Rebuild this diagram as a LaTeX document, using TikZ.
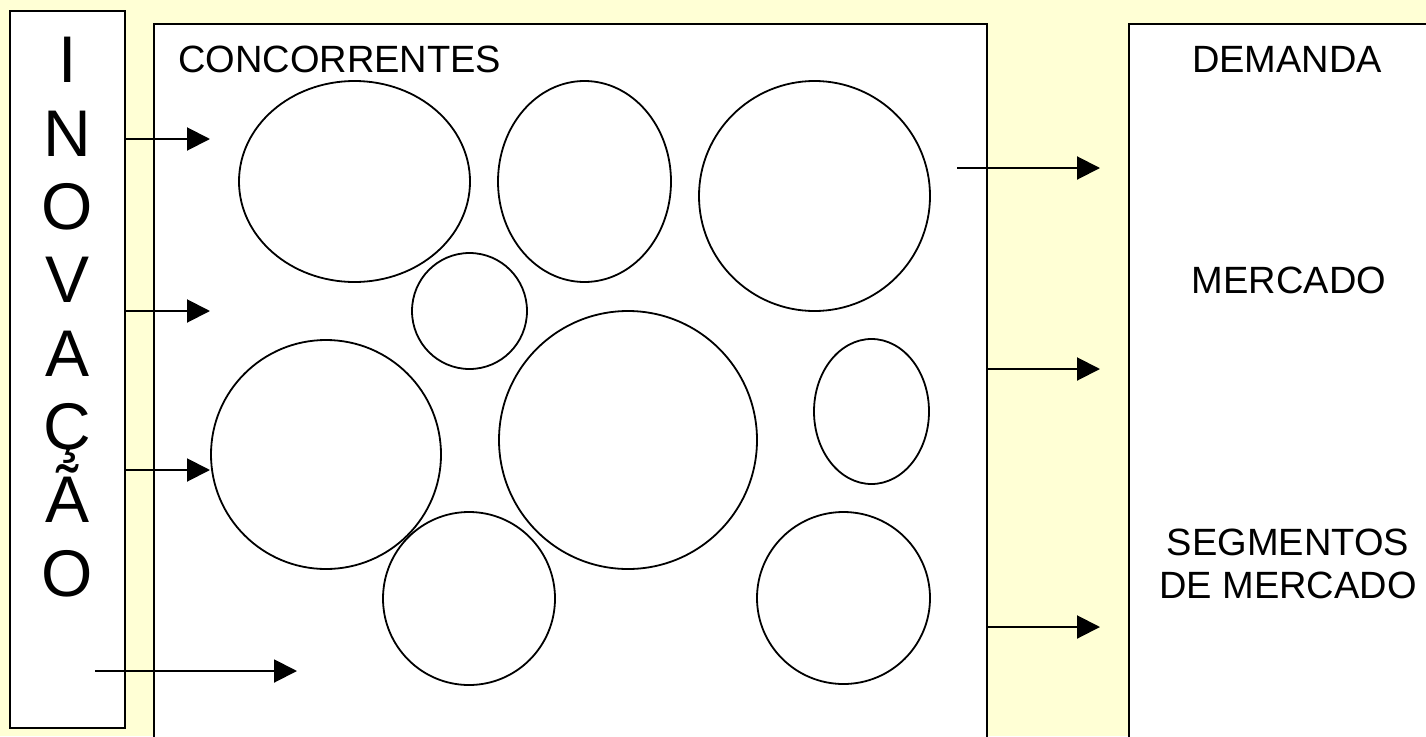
\documentclass[tikz,border=0pt]{standalone}
\usepackage{fontspec}
\setmainfont{Liberation Sans}
\usetikzlibrary{arrows.meta,shapes.geometric}
\definecolor{bgyellow}{RGB}{255,255,213}
\begin{document}
\begin{tikzpicture}[x=1pt,y=-1pt,
  box/.style={draw=black, line width=2pt, fill=white, inner sep=0pt, outer sep=0pt, anchor=north west},
  bubble/.style={draw=black, line width=1.8pt, ellipse, inner sep=0pt, outer sep=0pt},
  arr/.style={draw=black, line width=2pt, -{Triangle[length=23pt,width=23pt]}},
  big/.style={font=\fontsize{66}{73.3}\selectfont, inner sep=0pt, align=center},
  lab/.style={font=\fontsize{38}{43}\selectfont, inner sep=0pt, align=center}]
\fill[bgyellow] (0,0) rectangle (1426,736);
\useasboundingbox (0,0) rectangle (1426,736);
\clip (0,0) rectangle (1426,736);
% boxes
\node[box, minimum width=115.5pt, minimum height=717.3pt] (inov) at (9.5,10.7) {};
\node[box, minimum width=833.5pt, minimum height=740pt] (conc) at (153.5,24) {};
\node[box, minimum width=330pt, minimum height=740pt] (dem) at (1129,24) {};
% texts (base anchor = baseline of the last line)
\node[big, anchor=base] (inovtxt) at (67.5,596) {I\\N\\O\\V\\A\\Ç\\Ã\\O};
\node[lab, anchor=base west] (conctxt) at (178,72) {CONCORRENTES};
\node[lab, anchor=base] (demtxt) at (1287,72) {DEMANDA};
\node[lab, anchor=base] (mertxt) at (1289,293) {MERCADO};
\node[lab, anchor=base] (segtxt) at (1288,598) {SEGMENTOS\\DE MERCADO};
% bubbles
\node[bubble, minimum width=231pt, minimum height=201pt] (b1) at (354.5,181.5) {};
\node[bubble, minimum width=173pt, minimum height=201pt] (b2) at (584.5,181.5) {};
\node[bubble, minimum width=231pt, minimum height=230pt] (b3) at (814.5,196) {};
\node[bubble, minimum width=115pt, minimum height=116pt] (b4) at (469.5,311) {};
\node[bubble, minimum width=230pt, minimum height=229pt] (b5) at (326,454.5) {};
\node[bubble, minimum width=258pt, minimum height=258pt] (b6) at (628,440) {};
\node[bubble, minimum width=115pt, minimum height=145pt] (b7) at (871.5,411.5) {};
\node[bubble, minimum width=172pt, minimum height=173pt] (b8) at (469,598.5) {};
\node[bubble, minimum width=173pt, minimum height=172pt] (b9) at (843.5,598) {};
% arrow end points
\coordinate (t1) at (210,139);
\coordinate (t2) at (210,311);
\coordinate (t3) at (210,470);
\coordinate (s4) at (95,671);
\coordinate (t4) at (297,671);
\coordinate (r1s) at (957,168);
\coordinate (r1) at (1100,168);
\coordinate (r2) at (1100,369);
\coordinate (r3) at (1100,627);
% arrows
\draw[arr] (t1 -| inov.east) -- (t1);
\draw[arr] (t2 -| inov.east) -- (t2);
\draw[arr] (t3 -| inov.east) -- (t3);
\draw[arr] (s4) -- (t4);
\draw[arr] (r1s) -- (r1);
\draw[arr] (r2 -| conc.east) -- (r2);
\draw[arr] (r3 -| conc.east) -- (r3);
\end{tikzpicture}
\end{document}
